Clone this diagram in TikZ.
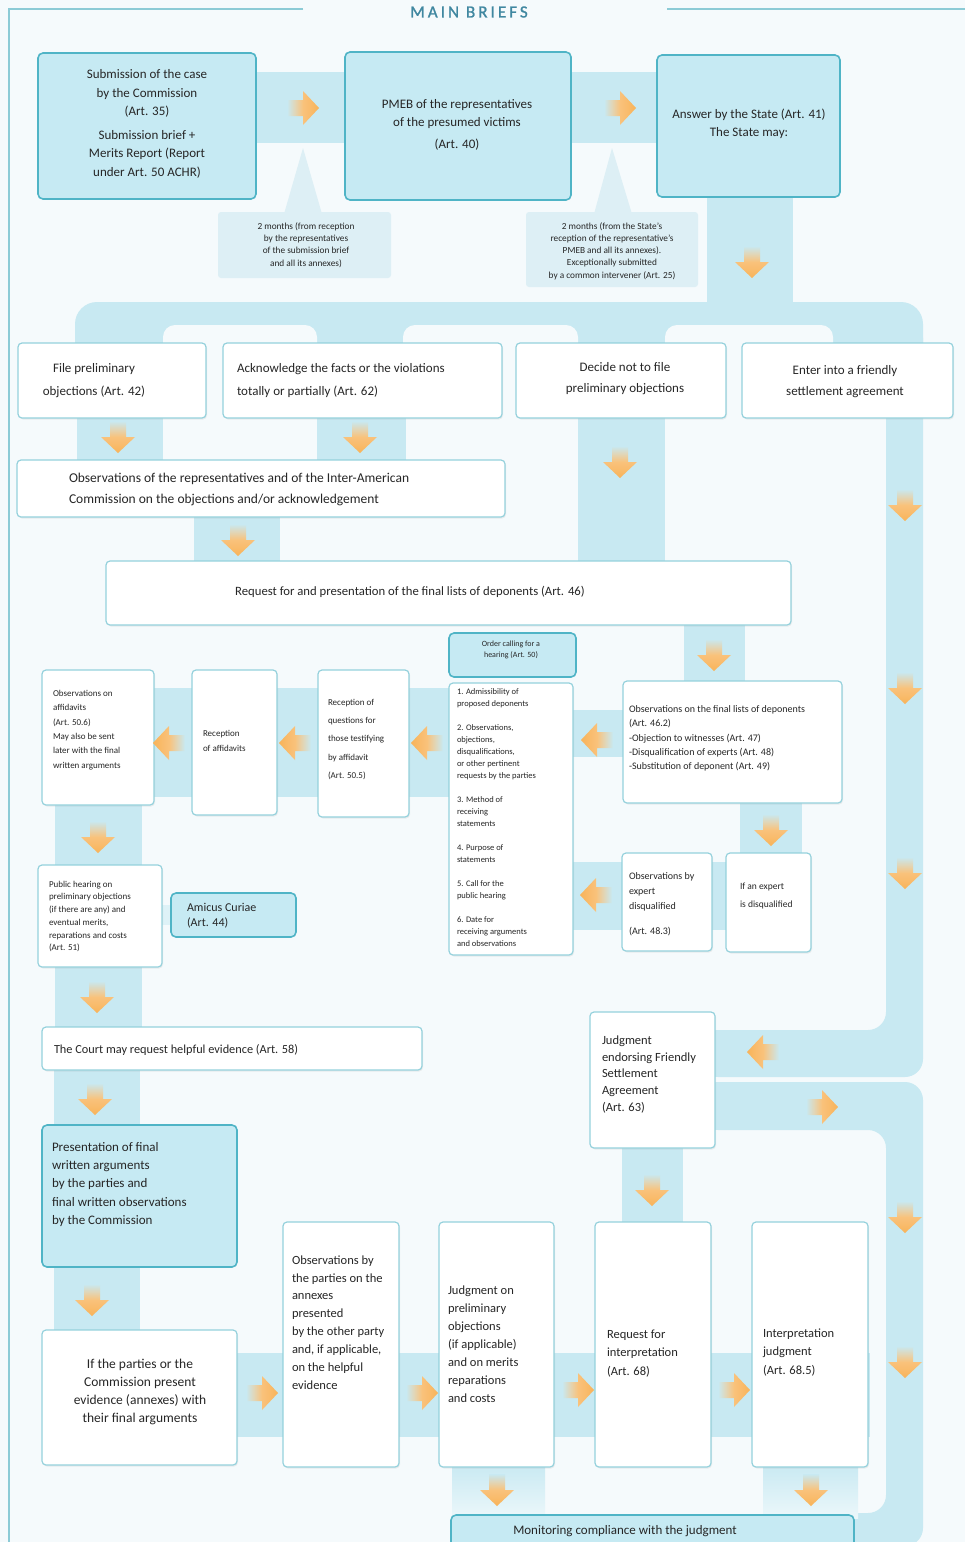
\documentclass[tikz,border=0pt]{standalone}
\usepackage{fontspec}
\setmainfont{Carlito}
\usetikzlibrary{shadows,calc}
\definecolor{bg}{HTML}{F5FAFC}
\definecolor{bandc}{HTML}{C8E9F2}
\definecolor{arrc}{HTML}{F8B35A}
\definecolor{cyanf}{HTML}{C6EAF3}
\definecolor{cyand}{HTML}{4FB4C6}
\definecolor{whd}{HTML}{95D1DC}
\definecolor{txc}{HTML}{262626}
\definecolor{callc}{HTML}{DDEFF5}
\definecolor{framec}{HTML}{8CCBD6}
\definecolor{titlec}{HTML}{3F87A0}
\newcommand\mkbox[6]{\node[#1, minimum width={#5-#3}, minimum height={#6-#4}] (#2) at ({(#3+#5)/2},{(#4+#6)/2}) {};}
\newcommand\fs[2]{\fontsize{#1}{#2}\selectfont}
\tikzset{
  cbox/.style={draw=cyand, fill=cyanf, line width=1.6pt, rounded corners=5pt, inner sep=0pt, outer sep=0pt},
  wbox/.style={draw=whd, fill=white, line width=1.2pt, rounded corners=4pt, inner sep=0pt, outer sep=0pt, drop shadow={opacity=0.12, shadow xshift=1pt, shadow yshift=-1.5pt}},
  callout/.style={fill=callc, rounded corners=3pt, inner sep=0pt, outer sep=0pt},
  tx/.style={text=txc, inner sep=0pt, outer sep=0pt},
  tl/.style={tx, anchor=west, align=left},
  tc/.style={tx, anchor=center, align=center},
  band/.style={fill=bandc},
  arR/.pic={\shade[left color=bandc, right color=arrc, middle color=arrc!80] (-16,-8) -- (0,-8) -- (0,-17) -- (16,0) -- (0,17) -- (0,8) -- (-16,8) -- cycle;},
  arL/.pic={\shade[left color=arrc, right color=bandc, middle color=arrc!80] (16,-8) -- (0,-8) -- (0,-17) -- (-16,0) -- (0,17) -- (0,8) -- (16,8) -- cycle;},
  arD/.pic={\shade[top color=bandc, bottom color=arrc, middle color=arrc!80] (-8,-16) -- (-8,0) -- (-17,0) -- (0,16) -- (17,0) -- (8,0) -- (8,-16) -- cycle;},
}
\begin{document}
\begin{tikzpicture}[x=1pt,y=-1pt]
\useasboundingbox (0,0) rectangle (965,1542);
\fill[bg] (0,0) rectangle (965,1542);
% frame and title
\draw[framec, line width=1.5pt] (303,9) -- (9,9) -- (9,1546);
\draw[framec, line width=1.5pt] (667,9) -- (968,9);
\node[text=titlec, font=\fs{17}{20}, inner sep=0pt] (title) at (469,12) {\addfontfeature{LetterSpace=18,FakeBold=1.2}MAIN BRIEFS};
% bands
\fill[band] (240,72) rectangle (670,143);
\fill[band] (707,190) rectangle (793,312);
\fill[band, rounded corners=22] (75,302) rectangle (923,415);
\fill[bg, rounded corners=12] (163,325) rectangle (317,440);
\fill[bg, rounded corners=12] (403,325) rectangle (578,440);
\fill[bg, rounded corners=12] (665,325) rectangle (833,440);
\fill[band, rounded corners=18] (886,320) -- (923,320) -- (923,1077) -- (700,1077) -- (700,1030) -- (886,1030) -- cycle;
\fill[band, rounded corners=18] (700,1082) -- (923,1082) -- (923,1546) -- (840,1546) -- (840,1513) -- (886,1513) -- (886,1130) -- (700,1130) -- cycle;
\fill[band] (77,410) rectangle (163,465);
\fill[band] (317,410) rectangle (406,465);
\fill[band] (578,410) rectangle (665,565);
\fill[band] (194,510) rectangle (280,565);
\fill[band] (684,620) rectangle (745,685);
\fill[band] (570,710) rectangle (625,757);
\fill[band] (740,800) rectangle (802,857);
\fill[band] (570,862) rectangle (730,930);
\fill[band] (150,688) rectangle (452,797);
\fill[band] (55,800) rectangle (142,870);
\fill[bandc!60] (160,905) rectangle (172,925);
\fill[band] (55,965) rectangle (142,1030);
\fill[band] (54,1068) rectangle (140,1130);
\fill[band] (54,1263) rectangle (140,1333);
\fill[band] (235,1353) rectangle (870,1437);
\fill[band] (622,1145) rectangle (683,1225);
\shade[top color=bandc, bottom color=bandc!35] (452,1463) rectangle (545,1518);
\shade[top color=bandc, bottom color=bandc!35] (763,1463) rectangle (858,1518);
% callouts
\fill[callc] (284,214) -- (303,148) -- (322,214) -- cycle;
\fill[callc] (594,214) -- (612,148) -- (632,214) -- cycle;
\mkbox{callout}{c1}{218}{212}{391}{278}
\mkbox{callout}{c2}{526}{212}{698}{287}
% boxes
\mkbox{cbox}{b1}{38}{53}{256}{199}
\mkbox{cbox}{b2}{345}{52}{571}{200}
\mkbox{cbox}{b3}{657}{55}{840}{197}
\mkbox{wbox}{fp}{18}{343}{206}{418}
\mkbox{wbox}{ak}{223}{343}{502}{418}
\mkbox{wbox}{dn}{516}{343}{726}{418}
\mkbox{wbox}{fsa}{742}{343}{953}{418}
\mkbox{wbox}{ob}{17}{460}{505}{517}
\mkbox{wbox}{rq}{106}{561}{791}{625}
\mkbox{cbox}{oc}{449}{633}{576}{677}
\mkbox{wbox}{ls}{449}{683}{573}{955}
\mkbox{wbox}{of}{623}{681}{842}{803}
\mkbox{wbox}{oe}{622}{853}{712}{951}
\mkbox{wbox}{ie}{726}{853}{811}{952}
\mkbox{wbox}{oa}{42}{670}{154}{805}
\mkbox{wbox}{ra}{192}{670}{277}{815}
\mkbox{wbox}{rqq}{318}{670}{409}{817}
\mkbox{wbox}{ph}{38}{865}{162}{967}
\mkbox{cbox}{am}{171}{893}{296}{937}
\mkbox{wbox}{ct}{42}{1027}{422}{1070}
\mkbox{cbox}{pr}{42}{1125}{237}{1267}
\mkbox{wbox}{je}{590}{1012}{715}{1148}
\mkbox{wbox}{ip}{42}{1330}{237}{1465}
\mkbox{wbox}{op}{283}{1222}{399}{1467}
\mkbox{wbox}{jp}{439}{1222}{554}{1467}
\mkbox{wbox}{ri}{595}{1222}{711}{1467}
\mkbox{wbox}{ij}{752}{1222}{868}{1467}
\mkbox{cbox}{mo}{451}{1515}{854}{1552}
% arrows
\pic at (303,108) {arR};
\pic at (620,108) {arR};
\pic at (752,262) {arD};
\pic at (118,437) {arD};
\pic at (360,437) {arD};
\pic at (620,462) {arD};
\pic at (905,505) {arD};
\pic at (238,540) {arD};
\pic at (714,655) {arD};
\pic at (905,688) {arD};
\pic at (597,740) {arL};
\pic at (427,743) {arL};
\pic at (295,743) {arL};
\pic at (169,743) {arL};
\pic at (771,830) {arD};
\pic at (596,895) {arL};
\pic at (905,873) {arD};
\pic at (98,837) {arD};
\pic at (97,997) {arD};
\pic at (95,1099) {arD};
\pic at (763,1052) {arL};
\pic at (822,1107) {arR};
\pic at (652,1190) {arD};
\pic at (905,1217) {arD};
\pic at (92,1300) {arD};
\pic at (262,1393) {arR};
\pic at (422,1393) {arR};
\pic at (578,1390) {arR};
\pic at (734,1390) {arR};
\pic at (905,1362) {arD};
\pic at (497,1490) {arD};
\pic at (811,1490) {arD};
% texts
\node[tc, font=\fs{13}{18.5}] (b1t) at (147,124) {Submission of the case\\by the Commission\\(Art. 35)\\[5pt]Submission brief +\\Merits Report (Report\\under Art. 50 ACHR)};
\node[tc, font=\fs{13}{18.5}] (b2t) at (457,125) {PMEB of the representatives\\of the presumed victims\\[3.5pt](Art. 40)};
\node[tc, font=\fs{13}{18.5}] (b3t) at (749,124) {Answer by the State (Art. 41)\\The State may:};
\node[tc, font=\fs{9.3}{12.3}] (c1t) at (306,245) {2 months (from reception\\by the representatives\\of the submission brief\\and all its annexes)};
\node[tc, font=\fs{9.3}{12.3}] (c2t) at (612,251) {2 months (from the State's\\reception of the representative's\\PMEB and all its annexes).\\Exceptionally submitted\\by a common intervener (Art. 25)};
\node[tc, font=\fs{13}{23}] (fpt) at (94,381) {File preliminary\\objections (Art. 42)};
\node[tl, font=\fs{13}{23}] (akt) at (237,381) {Acknowledge the facts or the violations\\totally or partially (Art. 62)};
\node[tc, font=\fs{13}{21}] (dnt) at (625,379) {Decide not to file\\preliminary objections};
\node[tc, font=\fs{13}{21}] (fst) at (845,382) {Enter into a friendly\\settlement agreement};
\node[tl, font=\fs{13.5}{21}] (obt) at (69,489.5) {Observations of the representatives and of the Inter-American\\Commission on the objections and/or acknowledgement};
\node[tc, font=\fs{12.7}{15}] (rqt) at (410,592) {Request for and presentation of the final lists of deponents (Art. 46)};
\node[tc, font=\fs{8}{11}] (oct) at (511,650) {Order calling for a\\hearing (Art. 50)};
\node[tl, font=\fs{8.5}{12}] (lst) at (457,817.5) {1. Admissibility of\\proposed deponents\\[12pt]2. Observations,\\objections,\\disqualifications,\\or other pertinent\\requests by the parties\\[12pt]3. Method of\\receiving\\statements\\[12pt]4. Purpose of\\statements\\[12pt]5. Call for the\\public hearing\\[12pt]6. Date for\\receiving arguments\\and observations};
\node[tl, font=\fs{10}{14.2}] (oft) at (629,738.5) {Observations on the final lists of deponents\\(Art. 46.2)\\-Objection to witnesses (Art. 47)\\-Disqualification of experts (Art. 48)\\-Substitution of deponent (Art. 49)};
\node[tl, font=\fs{10}{15}] (oet) at (629,904.5) {Observations by\\expert\\disqualified\\[10pt](Art. 48.3)};
\node[tl, font=\fs{9.5}{18}] (iet) at (740,896) {If an expert\\is disqualified};
\node[tl, font=\fs{9}{14.4}] (oat) at (53,730) {Observations on\\affidavits\\(Art. 50.6)\\May also be sent\\later with the final\\written arguments};
\node[tl, font=\fs{9}{15}] (rat) at (203,740.5) {Reception\\of affidavits};
\node[tl, font=\fs{9}{18.3}] (rqqt) at (328,739.5) {Reception of\\questions for\\those testifying\\by affidavit\\(Art. 50.5)};
\node[tl, font=\fs{9}{12.7}] (pht) at (49,916.5) {Public hearing on\\preliminary objections\\(if there are any) and\\eventual merits,\\reparations and costs\\(Art. 51)};
\node[tl, font=\fs{12}{15}] (amt) at (187,915.5) {Amicus Curiae\\(Art. 44)};
\node[tl, font=\fs{12.3}{15}] (ctt) at (54,1050) {The Court may request helpful evidence (Art. 58)};
\node[tl, font=\fs{13}{18.3}] (prt) at (52,1184.5) {Presentation of final\\written arguments\\by the parties and\\final written observations\\by the Commission};
\node[tl, font=\fs{12.5}{16.8}] (jet) at (602,1074.5) {Judgment\\endorsing Friendly\\Settlement\\Agreement\\(Art. 63)};
\node[tc, font=\fs{13.5}{18}] (ipt) at (140,1392) {If the parties or the\\Commission present\\evidence (annexes) with\\their final arguments};
\node[tl, font=\fs{12.5}{17.9}] (opt) at (292,1322.5) {Observations by\\the parties on the\\annexes\\presented\\by the other party\\and, if applicable,\\on the helpful\\evidence};
\node[tl, font=\fs{12.5}{18}] (jpt) at (448,1344) {Judgment on\\preliminary\\objections\\(if applicable)\\and on merits\\reparations\\and costs};
\node[tl, font=\fs{12.5}{18.5}] (rit) at (607,1353.5) {Request for\\interpretation\\(Art. 68)};
\node[tl, font=\fs{12.5}{18.5}] (ijt) at (763,1352.5) {Interpretation\\judgment\\(Art. 68.5)};
\node[tc, font=\fs{13}{15}] (mot) at (625,1531) {Monitoring compliance with the judgment};
\end{tikzpicture}
\end{document}
